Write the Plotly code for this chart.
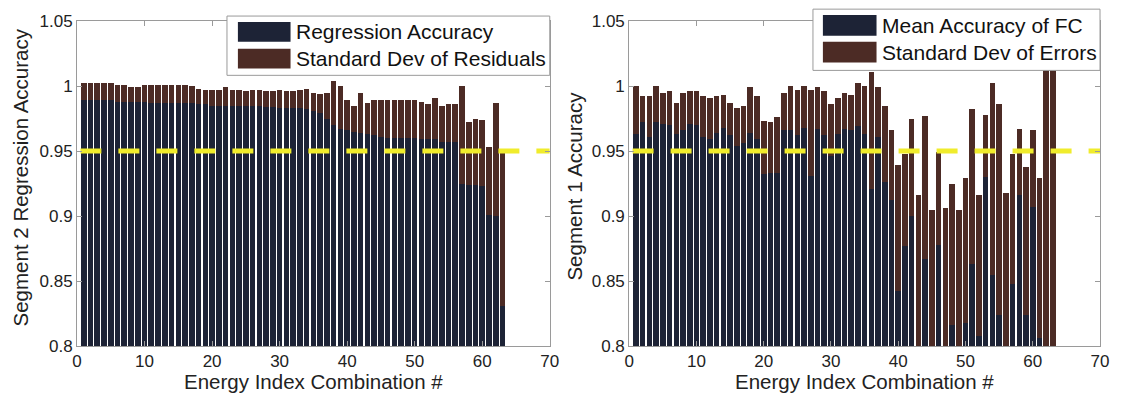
import plotly.graph_objects as go

# ---------------- data ----------------
combo_index = list(range(1, 64))

seg2_regression_accuracy = [
    0.989, 0.989, 0.989, 0.989, 0.989, 0.988, 0.988, 0.988, 0.988, 0.988,
    0.987, 0.987, 0.987, 0.987, 0.987, 0.987, 0.987, 0.986, 0.986, 0.985,
    0.985, 0.985, 0.985, 0.985, 0.985, 0.985, 0.985, 0.984, 0.984, 0.983,
    0.983, 0.983, 0.983, 0.982, 0.981, 0.979, 0.975, 0.970, 0.967, 0.966,
    0.965, 0.964, 0.963, 0.962, 0.961, 0.960, 0.960, 0.960, 0.960, 0.960,
    0.959, 0.959, 0.959, 0.957, 0.957, 0.957, 0.925, 0.924, 0.924, 0.923,
    0.901, 0.900, 0.831,
]
seg2_std_residuals = [
    0.013, 0.013, 0.013, 0.013, 0.013, 0.013, 0.013, 0.011, 0.011, 0.013,
    0.014, 0.014, 0.014, 0.014, 0.014, 0.014, 0.013, 0.012, 0.011, 0.012,
    0.012, 0.014, 0.012, 0.012, 0.011, 0.012, 0.012, 0.012, 0.012, 0.014,
    0.013, 0.013, 0.014, 0.016, 0.014, 0.015, 0.020, 0.034, 0.033, 0.023,
    0.020, 0.031, 0.024, 0.027, 0.028, 0.029, 0.029, 0.029, 0.029, 0.029,
    0.029, 0.027, 0.032, 0.028, 0.029, 0.029, 0.075, 0.048, 0.051, 0.051,
    0.052, 0.087, 0.118,
]

seg1_mean_accuracy = [
    0.963, 0.972, 0.961, 0.972, 0.971, 0.970, 0.963, 0.966, 0.971, 0.970,
    0.961, 0.959, 0.964, 0.968, 0.962, 0.954, 0.956, 0.964, 0.959, 0.932,
    0.933, 0.933, 0.966, 0.966, 0.962, 0.968, 0.931, 0.967, 0.962, 0.946,
    0.963, 0.967, 0.966, 0.969, 0.963, 0.921, 0.961, 0.926, 0.912, 0.842,
    0.877, 0.900, 0.780, 0.867, 0.780, 0.878, 0.798, 0.816, 0.780, 0.818,
    0.863, 0.808, 0.930, 0.855, 0.824, 0.780, 0.848, 0.916, 0.824, 0.907,
    0.806, 0.780, 0.780,
]
seg1_std_errors = [
    0.037, 0.020, 0.031, 0.028, 0.024, 0.026, 0.024, 0.029, 0.025, 0.026,
    0.031, 0.032, 0.028, 0.025, 0.025, 0.029, 0.029, 0.035, 0.033, 0.041,
    0.039, 0.043, 0.029, 0.034, 0.035, 0.032, 0.066, 0.032, 0.034, 0.040,
    0.028, 0.028, 0.027, 0.033, 0.037, 0.090, 0.038, 0.059, 0.054, 0.097,
    0.071, 0.075, 0.136, 0.110, 0.125, 0.071, 0.108, 0.109, 0.125, 0.111,
    0.119, 0.108, 0.048, 0.147, 0.162, 0.138, 0.100, 0.051, 0.114, 0.059,
    0.123, 0.250, 0.250,
]

threshold_value = 0.95
threshold_x = [0.5, 70]

x_tick_values = [0, 10, 20, 30, 40, 50, 60, 70]
x_tick_labels = ["0", "10", "20", "30", "40", "50", "60", "70"]
y_tick_values = [0.8, 0.85, 0.9, 0.95, 1.0, 1.05]
y_tick_labels = ["0.8", "0.85", "0.9", "0.95", "1", "1.05"]

# ---------------- style ----------------
DARK = "#1d2336"
BROWN = "#4c2b25"
YELLOW = "#f0ec2c"
BOX = "#9a9a9a"
FONT = "Liberation Sans, Arial, sans-serif"

W, H = 1121, 401
ML, MR, MT, MB = 77, 14, 17, 55
PW = W - ML - MR
PH = H - MT - MB


def px(x):
    return (x - ML) / PW


def py(y):
    return 1 - (y - MT) / PH


fig = go.Figure()

panels = [
    ("x", "y", seg2_regression_accuracy, seg2_std_residuals),
    ("x2", "y2", seg1_mean_accuracy, seg1_std_errors),
]
for xa, ya, acc, sd in panels:
    fig.add_trace(go.Bar(x=combo_index, y=acc, xaxis=xa, yaxis=ya,
                         marker=dict(color=DARK, line=dict(width=0)),
                         showlegend=False))
    fig.add_trace(go.Bar(x=combo_index, y=sd, xaxis=xa, yaxis=ya,
                         marker=dict(color=BROWN, line=dict(width=0)),
                         showlegend=False))
    fig.add_trace(go.Scatter(x=threshold_x, y=[threshold_value] * 2,
                             xaxis=xa, yaxis=ya, mode="lines",
                             line=dict(color=YELLOW, width=5, dash="21px,17px"),
                             showlegend=False, hoverinfo="skip"))

axis_common = dict(
    showline=True, linecolor=BOX, linewidth=1, mirror="ticks",
    ticks="inside", ticklen=5, tickwidth=1, tickcolor=BOX,
    showgrid=False, zeroline=False,
    tickfont=dict(family=FONT, size=17, color="#222"),
)

fig.update_layout(
    width=W, height=H, autosize=False,
    margin=dict(l=ML, r=MR, t=MT, b=MB, pad=0),
    paper_bgcolor="white", plot_bgcolor="white",
    barmode="stack", bargap=0.17,
    xaxis=dict(domain=[0, 476 / PW], range=[0, 70], anchor="y",
               tickvals=x_tick_values, ticktext=x_tick_labels, **axis_common),
    yaxis=dict(domain=[0, 1], range=[0.8, 1.05], anchor="x",
               tickvals=y_tick_values, ticktext=y_tick_labels, **axis_common),
    xaxis2=dict(domain=[(633 - ML) / PW, 1], range=[0, 70], anchor="y2",
                tickvals=x_tick_values, ticktext=x_tick_labels, **axis_common),
    yaxis2=dict(domain=[0, 1], range=[0.8, 1.05], anchor="x2",
                tickvals=y_tick_values, ticktext=y_tick_labels, **axis_common),
    font=dict(family=FONT, color="#222"),
)

shapes = []
annotations = []


def legend(x0, x1, y0, y1, sw_x0, sw_x1, rows, text_x, labels):
    shapes.append(dict(type="rect", xref="paper", yref="paper",
                       x0=px(x0), x1=px(x1), y0=py(y1), y1=py(y0),
                       fillcolor="white", line=dict(color=BOX, width=1),
                       layer="above"))
    for (ra, rb), color, label in zip(rows, [DARK, BROWN], labels):
        shapes.append(dict(type="rect", xref="paper", yref="paper",
                           x0=px(sw_x0), x1=px(sw_x1), y0=py(rb), y1=py(ra),
                           fillcolor=color, line=dict(width=0), layer="above"))
        annotations.append(dict(xref="paper", yref="paper",
                                x=px(text_x), y=py((ra + rb) / 2),
                                xanchor="left", yanchor="middle", showarrow=False,
                                text=label,
                                font=dict(family=FONT, size=21, color="#111")))


legend(228, 553, 12, 72, 239, 292, [(18, 38), (45, 65)], 295,
       ["Regression Accuracy", "Standard Dev of Residuals"])
legend(818, 1107, 5, 67, 828, 882, [(11, 32), (38, 59)], 885,
       ["Mean Accuracy of FC", "Standard Dev of Errors"])

title_font = dict(family=FONT, size=20.5, color="#222")
annotations += [
    dict(xref="paper", yref="paper", x=px(315), y=py(382), showarrow=False,
         xanchor="center", yanchor="middle", text="Energy Index Combination #",
         font=title_font),
    dict(xref="paper", yref="paper", x=px(870), y=py(382), showarrow=False,
         xanchor="center", yanchor="middle", text="Energy Index Combination #",
         font=title_font),
    dict(xref="paper", yref="paper", x=px(20), y=py(175), showarrow=False,
         xanchor="center", yanchor="middle", textangle=-90,
         text="Segment 2 Regression Accuracy", font=title_font),
    dict(xref="paper", yref="paper", x=px(578), y=py(184), showarrow=False,
         xanchor="center", yanchor="middle", textangle=-90,
         text="Segment 1 Accuracy", font=title_font),
]

fig.update_layout(shapes=shapes, annotations=annotations)
fig.write_html("out.html")
